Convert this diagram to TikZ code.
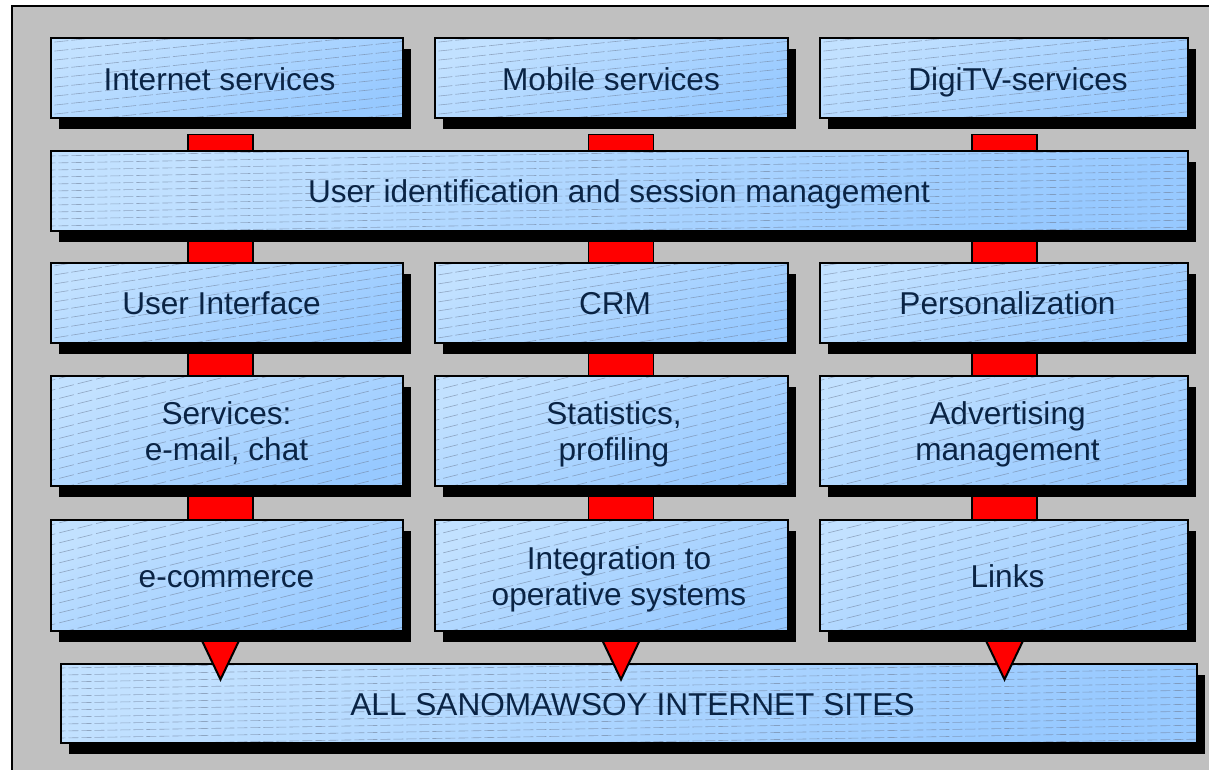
\documentclass[tikz,border=0pt]{standalone}
\usepackage{fontspec}
\setmainfont{Liberation Sans}
\usetikzlibrary{shadows,calc}

\definecolor{framegray}{HTML}{C0C0C0}
\definecolor{boxtop}{HTML}{C2E1FF}
\definecolor{boxbot}{HTML}{97C9FF}
\definecolor{hatchgray}{HTML}{6F7F99}
\definecolor{labelblue}{HTML}{0A2445}

\pgfdeclarelayer{frame}
\pgfdeclarelayer{links}
\pgfdeclarelayer{base}
\pgfdeclarelayer{pointers}
\pgfsetlayers{frame,links,base,pointers,main}

% first-line strut that lowers two-line labels a little
\newcommand{\tallstrut}{\rule{0pt}{35pt}}

\tikzset{
  hatchline/.style={draw=hatchgray, line width=0.6pt, opacity=0.6},
  % width, height, hatch angle, hatch spacing, dash pattern
  module/.style n args={5}{
    rectangle, draw=black, line width=2pt, inner sep=0pt,
    minimum width=#1pt, minimum height=#2pt,
    top color=boxtop, bottom color=boxbot, shading angle=25,
    drop shadow={shadow xshift=8pt, shadow yshift=-11pt, fill=black, opacity=1},
    font=\fontsize{31.6}{36}\selectfont, text=labelblue, align=center,
    path picture={
      \foreach \k in {-30,...,30}{
        \draw[hatchline, dash pattern=#5]
          ([yshift=\k*#4 pt]path picture bounding box.west)
          ++(#3+180:200pt) -- ++(#3:1500pt);
      }
    }
  },
  oneline/.style={text height=24pt, text depth=0pt},
  linkbar/.style={fill=red, draw=black, line width=1.5pt},
  pointer/.style={fill=red, draw=black, line width=2pt, line join=miter},
}

\begin{document}
\begin{tikzpicture}[x=1pt, y=-1pt]
  \useasboundingbox (0,0) rectangle (1209,770);
  \clip (0,0) rectangle (1209,770);

  % gray frame round the whole stack
  \begin{pgfonlayer}{frame}
    \fill[white] (0,0) rectangle (1209,770);
    \draw[fill=framegray, line width=2pt] (11.5,6.5) rectangle (1240,800);
  \end{pgfonlayer}

  % columns of the red links
  \coordinate (c1) at (220.5,0);
  \coordinate (c2) at (621,0);
  \coordinate (c3) at (1004.5,0);

  % row 1: channels
  \node[module={352}{80}{6}{9}{on 14pt off 3pt}, oneline] (isvc) at (226.5,78.5) {Internet services\hspace*{14pt}};
  \node[module={353}{80}{6}{9}{on 14pt off 3pt}, oneline] (msvc) at (611,78.5) {Mobile services};
  \node[module={368}{80}{6}{9}{on 14pt off 3pt}, oneline] (dtv) at (1003.5,78.5) {\hspace*{29pt}DigiTV-services};

  % row 2: session layer
  \node[module={1137}{79}{1}{7}{on 10pt off 3pt}, oneline] (uid) at (619,191) {User identification and session management};

  % row 3
  \node[module={352}{80}{9}{9}{on 14pt off 3pt}, oneline] (ui) at (226.5,302.5) {User Interface\hspace*{10pt}};
  \node[module={353}{80}{9}{9}{on 14pt off 3pt}, oneline] (crm) at (611,302.5) {\hspace*{8pt}CRM};
  \node[module={368}{80}{9}{9}{on 14pt off 3pt}, oneline] (pers) at (1003.5,302.5) {\hspace*{8pt}Personalization};

  % row 4
  \node[module={352}{110}{14}{10}{on 15pt off 4pt}] (svc) at (226.5,430.5) {\tallstrut Services:\\\strut e-mail, chat};
  \node[module={353}{110}{14}{10}{on 15pt off 4pt}] (stat) at (611,430.5) {\tallstrut\hspace*{6pt}Statistics,\\\strut\hspace*{6pt}profiling};
  \node[module={368}{110}{14}{10}{on 15pt off 4pt}] (adv) at (1003.5,430.5) {\tallstrut\hspace*{8pt}Advertising\\\strut\hspace*{8pt}management};

  % row 5
  \node[module={352}{111}{14}{10}{on 15pt off 4pt}, oneline] (ecom) at (226.5,575) {e-commerce};
  \node[module={353}{111}{14}{10}{on 15pt off 4pt}] (integ) at (611,575) {\tallstrut\hspace*{16pt}Integration to\\\strut\hspace*{16pt}operative systems};
  \node[module={368}{111}{14}{10}{on 15pt off 4pt}, oneline] (links) at (1003.5,575) {\hspace*{8pt}Links};

  % common base
  \begin{pgfonlayer}{base}
    \node[module={1136}{79}{1}{7}{on 10pt off 3pt}, oneline] (all) at (628.5,703) {\hspace*{8pt}ALL SANOMAWSOY INTERNET SITES};
  \end{pgfonlayer}

  % red links between the layers
  \begin{pgfonlayer}{links}
    \foreach \up/\dn/\col/\gap in {isvc/uid/c1/15, msvc/uid/c2/15, dtv/uid/c3/15,
                                   uid/ui/c1/0, uid/crm/c2/0, uid/pers/c3/0,
                                   ui/svc/c1/0, crm/stat/c2/0, pers/adv/c3/0,
                                   svc/ecom/c1/0, stat/integ/c2/0, adv/links/c3/0}{
      \path[linkbar] ($(\col |- \up.south)+(-32.5,\gap)$) rectangle ($(\col |- \dn.north)+(32.5,5)$);
    }
  \end{pgfonlayer}

  % red pointers into the base
  \begin{pgfonlayer}{pointers}
    \foreach \up/\col in {ecom/c1, integ/c2, links/c3}{
      \path[pointer] ($(\col |- \up.south)+(-21,4)$) -- ($(\col |- \up.south)+(21,4)$)
        -- ($(\col |- all.north)+(0,17)$) -- cycle;
    }
  \end{pgfonlayer}
\end{tikzpicture}
\end{document}
